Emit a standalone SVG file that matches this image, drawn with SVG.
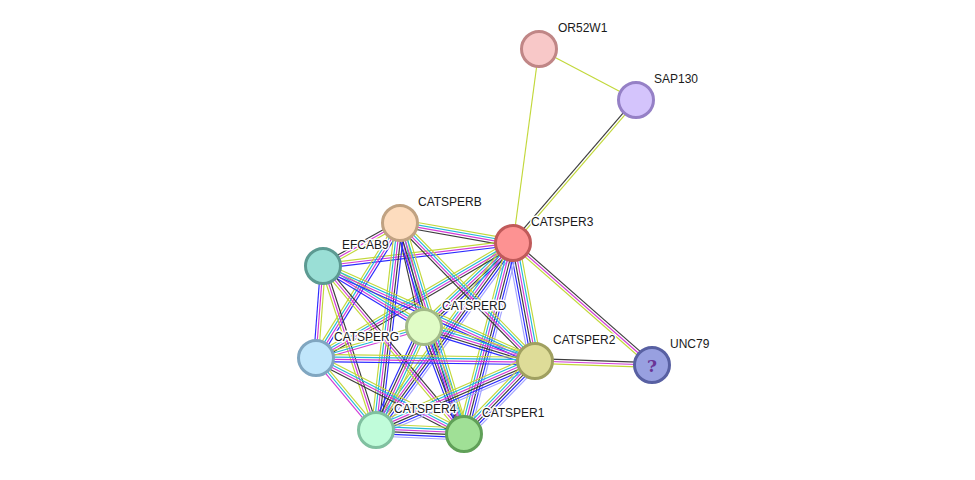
<svg xmlns="http://www.w3.org/2000/svg" width="975" height="480" viewBox="0 0 975 480">
<style>
line{vector-effect:non-scaling-stroke;stroke-width:1.15;fill:none}
.y{stroke:#c2d83a}.c{stroke:#22b8d8}.m{stroke:#d23ad6}.k{stroke:#3c3c3c}.b{stroke:#2a2aff}.h{stroke:#a4a4ff}
.node circle{stroke-width:3}
.lbl{font-family:"Liberation Sans",Arial,sans-serif;font-size:12px;fill:#1a1a1a;stroke:#fff;stroke-width:3;paint-order:stroke;stroke-linejoin:round}
</style>
<defs>
<g id="p1"><line class="y" x1="0" y1="0" x2="1" y2="0"/></g>
<g id="p2"><line class="k" x1="0" y1="-1.2" x2="1" y2="-1.2"/><line class="y" x1="0" y1="1.2" x2="1" y2="1.2"/></g>
<g id="p3a"><line class="k" x1="0" y1="-2.4" x2="1" y2="-2.4"/><line class="m" x1="0" y1="0" x2="1" y2="0"/><line class="y" x1="0" y1="2.4" x2="1" y2="2.4"/></g>
<g id="p3b"><line class="y" x1="0" y1="-2.4" x2="1" y2="-2.4"/><line class="m" x1="0" y1="0" x2="1" y2="0"/><line class="b" x1="0" y1="2.4" x2="1" y2="2.4"/></g>
<g id="p3c"><line class="y" x1="0" y1="-2.4" x2="1" y2="-2.4"/><line class="c" x1="0" y1="0" x2="1" y2="0"/><line class="m" x1="0" y1="2.4" x2="1" y2="2.4"/></g>
<g id="p4a"><line class="y" x1="0" y1="-3.6" x2="1" y2="-3.6"/><line class="c" x1="0" y1="-1.2" x2="1" y2="-1.2"/><line class="m" x1="0" y1="1.2" x2="1" y2="1.2"/><line class="k" x1="0" y1="3.6" x2="1" y2="3.6"/></g>
<g id="p4b"><line class="y" x1="0" y1="-3.6" x2="1" y2="-3.6"/><line class="c" x1="0" y1="-1.2" x2="1" y2="-1.2"/><line class="m" x1="0" y1="1.2" x2="1" y2="1.2"/><line class="b" x1="0" y1="3.6" x2="1" y2="3.6"/></g>
<g id="p5"><line class="y" x1="0" y1="-4.8" x2="1" y2="-4.8"/><line class="c" x1="0" y1="-2.4" x2="1" y2="-2.4"/><line class="m" x1="0" y1="0" x2="1" y2="0"/><line class="k" x1="0" y1="2.4" x2="1" y2="2.4"/><line class="b" x1="0" y1="4.8" x2="1" y2="4.8"/></g>
<g id="p6"><line class="y" x1="0" y1="-6" x2="1" y2="-6"/><line class="c" x1="0" y1="-3.6" x2="1" y2="-3.6"/><line class="m" x1="0" y1="-1.2" x2="1" y2="-1.2"/><line class="k" x1="0" y1="1.2" x2="1" y2="1.2"/><line class="b" x1="0" y1="3.6" x2="1" y2="3.6"/><line class="h" x1="0" y1="6" x2="1" y2="6"/></g>
</defs>
<rect width="975" height="480" fill="#fff"/>
<g id="connectors">
<use href="#p4a" transform="translate(400 223) rotate(10.04) scale(114.8 1)"/>
<use href="#p3b" transform="translate(323 266) rotate(-6.9) scale(191.4 1)"/>
<use href="#p5" transform="translate(424 327) rotate(-43.35) scale(122.4 1)"/>
<use href="#p4a" transform="translate(316 358) rotate(-30.27) scale(228.1 1)"/>
<use href="#p6" transform="translate(513 243) rotate(79.44) scale(120 1)"/>
<use href="#p6" transform="translate(376 430) rotate(-53.77) scale(231.8 1)"/>
<use href="#p6" transform="translate(464 434) rotate(-75.61) scale(197.2 1)"/>
<use href="#p3a" transform="translate(513 243) rotate(41.27) scale(184.9 1)"/>
<use href="#p2" transform="translate(513 243) rotate(-49.3) scale(188.6 1)"/>
<use href="#p1" transform="translate(513 243) rotate(-82.37) scale(195.7 1)"/>
<use href="#p1" transform="translate(539 49) rotate(27.74) scale(109.6 1)"/>
<use href="#p3a" transform="translate(535 361) rotate(1.96) scale(117.1 1)"/>
<use href="#p3a" transform="translate(323 266) rotate(-29.18) scale(88.2 1)"/>
<use href="#p4a" transform="translate(400 223) rotate(77.01) scale(106.7 1)"/>
<use href="#p4b" transform="translate(316 358) rotate(-58.11) scale(159 1)"/>
<use href="#p4a" transform="translate(400 223) rotate(45.63) scale(193.1 1)"/>
<use href="#p5" transform="translate(376 430) rotate(-83.39) scale(208.4 1)"/>
<use href="#p5" transform="translate(400 223) rotate(73.13) scale(220.5 1)"/>
<use href="#p4b" transform="translate(323 266) rotate(31.13) scale(118 1)"/>
<use href="#p3b" transform="translate(323 266) rotate(94.35) scale(92.3 1)"/>
<use href="#p4b" transform="translate(323 266) rotate(24.14) scale(232.3 1)"/>
<use href="#p3a" transform="translate(323 266) rotate(72.09) scale(172.4 1)"/>
<use href="#p3a" transform="translate(323 266) rotate(50) scale(219.3 1)"/>
<use href="#p3c" transform="translate(316 358) rotate(-16.02) scale(112.4 1)"/>
<use href="#p5" transform="translate(424 327) rotate(17.03) scale(116.1 1)"/>
<use href="#p5" transform="translate(424 327) rotate(114.98) scale(113.6 1)"/>
<use href="#p5" transform="translate(424 327) rotate(69.5) scale(114.2 1)"/>
<use href="#p4b" transform="translate(316 358) rotate(0.78) scale(219 1)"/>
<use href="#p3c" transform="translate(316 358) rotate(50.19) scale(93.7 1)"/>
<use href="#p4a" transform="translate(316 358) rotate(27.18) scale(166.4 1)"/>
<use href="#p6" transform="translate(376 430) rotate(-23.46) scale(173.3 1)"/>
<use href="#p6" transform="translate(464 434) rotate(-45.8) scale(101.8 1)"/>
<use href="#p6" transform="translate(376 430) rotate(2.6) scale(88.1 1)"/>
</g>
<g id="OR52W1" class="node"><circle cx="539" cy="49" r="17.5" fill="#f8c8c8" stroke="#c08686"/><text class="lbl" x="558" y="32">OR52W1</text></g>
<g id="SAP130" class="node"><circle cx="636" cy="100" r="17.5" fill="#d4c4fc" stroke="#9580c6"/><text class="lbl" x="654" y="83">SAP130</text></g>
<g id="CATSPER3" class="node"><circle cx="513" cy="243" r="17.5" fill="#fd9292" stroke="#c05a5a"/><text class="lbl" x="531" y="226">CATSPER3</text></g>
<g id="CATSPERB" class="node"><circle cx="400" cy="223" r="17.5" fill="#fddcbe" stroke="#c0a282"/><text class="lbl" x="418" y="206">CATSPERB</text></g>
<g id="EFCAB9" class="node"><circle cx="323" cy="266" r="17.5" fill="#9adfd6" stroke="#5c9a92"/><text class="lbl" x="342" y="249">EFCAB9</text></g>
<g id="CATSPERD" class="node"><circle cx="424" cy="327" r="17.5" fill="#e0fcc6" stroke="#a2ba88"/><text class="lbl" x="442" y="310">CATSPERD</text></g>
<g id="CATSPERG" class="node"><circle cx="316" cy="358" r="17.5" fill="#c0e6fb" stroke="#80a6c0"/><text class="lbl" x="334" y="341">CATSPERG</text></g>
<g id="CATSPER2" class="node"><circle cx="535" cy="361" r="17.5" fill="#dedc98" stroke="#a0a060"/><text class="lbl" x="553" y="344">CATSPER2</text></g>
<g id="UNC79" class="node"><circle cx="652" cy="365" r="17.5" fill="#98a0e0" stroke="#5860a2"/><text x="652" y="372" text-anchor="middle" font-family="'DejaVu Serif',serif" font-weight="bold" font-size="17" fill="#6a3596">?</text><text class="lbl" x="670" y="348">UNC79</text></g>
<g id="CATSPER4" class="node"><circle cx="376" cy="430" r="17.5" fill="#c0fcda" stroke="#80c0a0"/><text class="lbl" x="394" y="413">CATSPER4</text></g>
<g id="CATSPER1" class="node"><circle cx="464" cy="434" r="17.5" fill="#a0e096" stroke="#60a058"/><text class="lbl" x="482" y="417">CATSPER1</text></g>
</svg>
